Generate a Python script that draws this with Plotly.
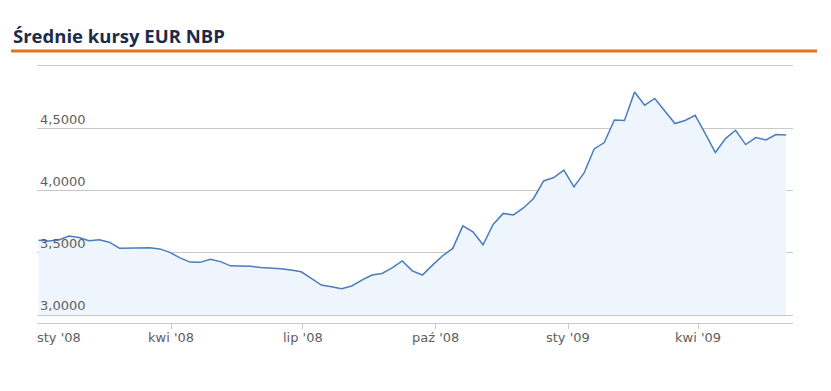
import plotly.graph_objects as go
import pandas as pd

# ---- data ----
title_text = "Średnie kursy EUR NBP"
start_date = "2007-12-31"
rates = [
    3.601, 3.595, 3.603, 3.634, 3.622, 3.597, 3.605, 3.585, 3.537, 3.537,
    3.541, 3.541, 3.531, 3.503, 3.459, 3.425, 3.423, 3.447, 3.429, 3.395,
    3.393, 3.391, 3.381, 3.379, 3.371, 3.362, 3.347, 3.294, 3.241, 3.227,
    3.211, 3.233, 3.281, 3.321, 3.334, 3.379, 3.435, 3.355, 3.321, 3.401,
    3.476, 3.535, 3.716, 3.668, 3.564, 3.727, 3.816, 3.804, 3.860, 3.936,
    4.077, 4.104, 4.163, 4.029, 4.141, 4.334, 4.385, 4.567, 4.562, 4.791,
    4.685, 4.739, 4.637, 4.538, 4.562, 4.604, 4.457, 4.305, 4.417, 4.484,
    4.369, 4.425, 4.406, 4.449, 4.446,
]
dates = pd.date_range(start_date, periods=len(rates), freq="7D")

x_tick_dates = ["2008-01-01", "2008-04-01", "2008-07-01", "2008-10-01", "2009-01-01", "2009-04-01"]
x_tick_labels = ["sty '08", "kwi '08", "lip '08", "paź '08", "sty '09", "kwi '09"]
y_tick_vals = [3.0, 3.5, 4.0, 4.5, 5.0]
y_tick_labels = ["3,0000", "3,5000", "4,0000", "4,5000", ""]

# ---- styles / layout geometry (page pixels; the page body has an 8px margin) ----
OFF = 8
W, H = 831 - OFF, 391 - OFF
PLOT_L, PLOT_R, PLOT_T, PLOT_B = 37, 793, 63, 323   # in page pixels
ML, MR = PLOT_L - OFF, W - (PLOT_R - OFF)
MT, MB = PLOT_T - OFF, H - (PLOT_B - OFF)
PW, PH = W - ML - MR, H - MT - MB
FILL_BASE = 3.0
LINE_COLOR = "#4a7dc0"
FILL_COLOR = "#eef5fc"
GRID_COLOR = "#c8c8c8"
TEXT_COLOR = "#606060"
FONT = "DejaVu Sans"

def px_x(px):
    return (px - PLOT_L) / PW

def px_y(py):
    return (PLOT_B - py) / PH

fig = go.Figure()
fig.add_trace(go.Scatter(
    x=dates, y=[FILL_BASE] * len(rates), mode="lines",
    line=dict(width=0, color=FILL_COLOR), hoverinfo="skip", showlegend=False,
))
fig.add_trace(go.Scatter(
    x=dates, y=rates, mode="lines", fill="tonexty", fillcolor=FILL_COLOR,
    line=dict(color=LINE_COLOR, width=1.5), showlegend=False,
))

annotations = []
for i, (d, lab) in enumerate(zip(x_tick_dates, x_tick_labels)):
    annotations.append(dict(
        x=d, xref="x", y=0, yref="paper", yanchor="top",
        xanchor="left" if i == 0 else "center", xshift=-5 if i == 0 else 0,
        yshift=-5, text=lab, showarrow=False,
        font=dict(family=FONT, size=13, color=TEXT_COLOR),
    ))
annotations.append(dict(
    x=px_x(11), xref="paper", xanchor="left", y=px_y(36), yref="paper", yanchor="middle",
    text=title_text, showarrow=False,
    font=dict(family="Open Sans", size=18.5, weight=700, color="#1c2b4a"),
))

fig.update_layout(
    width=W, height=H,
    margin=dict(l=ML, r=MR, t=MT, b=MB),
    paper_bgcolor="white", plot_bgcolor="white",
    xaxis=dict(
        range=["2007-12-29 22:00", "2009-06-05 19:00"],
        tickvals=x_tick_dates, showticklabels=False,
        ticks="outside", ticklen=5, tickcolor=GRID_COLOR,
        showline=True, linecolor=GRID_COLOR, linewidth=1,
        showgrid=False, zeroline=False,
    ),
    yaxis=dict(
        range=[2.936, 5.024],
        tickvals=y_tick_vals, ticktext=y_tick_labels,
        ticklabelposition="inside top",
        tickfont=dict(family=FONT, size=13, color=TEXT_COLOR),
        showgrid=True, gridcolor=GRID_COLOR, gridwidth=1,
        zeroline=False, showline=False,
    ),
    shapes=[dict(
        type="line", xref="paper", yref="paper",
        x0=px_x(11), x1=px_x(817), y0=px_y(51), y1=px_y(51),
        line=dict(color="#e8731c", width=3),
    )],
    annotations=annotations,
    showlegend=False,
)

fig.write_html("out.html")
